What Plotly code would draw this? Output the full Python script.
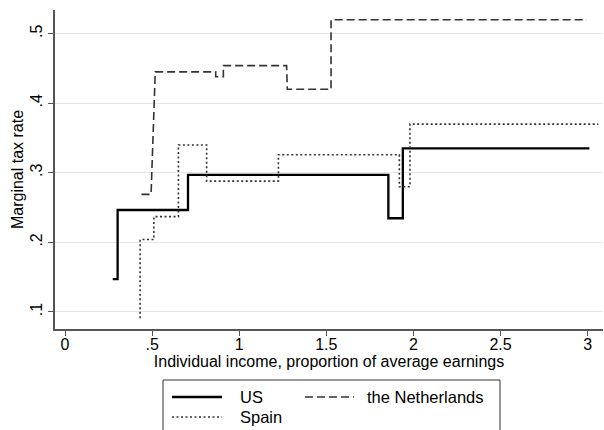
import plotly.graph_objects as go

# ---- data (breakpoints of marginal tax rate schedules) ----
us_x = [0.274, 0.302, 0.302, 0.706, 0.706, 1.856, 1.856, 1.939, 1.939, 3.01]
us_y = [0.147, 0.147, 0.2465, 0.2465, 0.297, 0.297, 0.2346, 0.2346, 0.335, 0.335]

nl_x = [0.439, 0.494, 0.518, 0.865, 0.865, 0.909, 0.909, 1.272, 1.276, 1.527, 1.527, 2.995]
nl_y = [0.269, 0.269, 0.445, 0.445, 0.438, 0.438, 0.454, 0.454, 0.420, 0.420, 0.520, 0.520]

es_x = [0.431, 0.431, 0.510, 0.510, 0.651, 0.651, 0.813, 0.813, 1.225, 1.225, 1.919, 1.919, 1.980, 1.980, 3.061]
es_y = [0.091, 0.204, 0.204, 0.237, 0.237, 0.340, 0.340, 0.288, 0.288, 0.326, 0.326, 0.280, 0.280, 0.370, 0.370]

x_tickvals = [0, 0.5, 1, 1.5, 2, 2.5, 3]
x_ticktext = ["0", ".5", "1", "1.5", "2", "2.5", "3"]
y_tickvals = [0.1, 0.2, 0.3, 0.4, 0.5]
y_ticktext = [".1", ".2", ".3", ".4", ".5"]

series_names = ["US", "the Netherlands", "Spain"]

FONT = "Liberation Sans, Arial, Helvetica, sans-serif"
W, H = 604, 430
L, R, T, B = 55, 1, 10, 101

fig = go.Figure()
fig.add_trace(go.Scatter(x=us_x, y=us_y, mode="lines", name=series_names[0],
                         line=dict(color="#000000", width=2.3), showlegend=False))
fig.add_trace(go.Scatter(x=nl_x, y=nl_y, mode="lines", name=series_names[1],
                         line=dict(color="#333333", width=1.6, dash="8px,4px"), showlegend=False))
fig.add_trace(go.Scatter(x=es_x, y=es_y, mode="lines", name=series_names[2],
                         line=dict(color="#333333", width=1.6, dash="2px,2.5px"), showlegend=False))

axis_common = dict(showline=True, linecolor="#555555", linewidth=1.5, automargin=False,
                   ticks="outside", ticklen=5, tickcolor="#555555", tickwidth=1,
                   zeroline=False, tickfont=dict(size=16, color="#000000", family=FONT))

fig.update_xaxes(range=[-0.0574, 3.088], tickvals=x_tickvals, ticktext=x_ticktext,
                 showgrid=False, ticklabelstandoff=-5,
                 title=dict(text="Individual income, proportion of average earnings",
                            font=dict(size=16, color="#000000", family=FONT), standoff=0),
                 **axis_common)
fig.update_yaxes(range=[0.0754, 0.534], tickvals=y_tickvals, ticktext=y_ticktext,
                 tickangle=-90, showgrid=True, gridcolor="#e6e6e6", gridwidth=1,
                 title=dict(text="Marginal tax rate",
                            font=dict(size=16, color="#000000", family=FONT), standoff=0),
                 **axis_common)

# ---- manual legend (pixel helpers) ----
pw = W - L - R
ph = H - T - B
def px(x):
    return (x - L) / pw
def py(y):
    return (H - B - y) / ph

shapes = [
    dict(type="rect", xref="paper", yref="paper", x0=px(163), x1=px(500), y0=py(445), y1=py(380),
         line=dict(color="#333333", width=1), fillcolor="white", layer="above"),
    dict(type="line", xref="paper", yref="paper", x0=px(172), x1=px(222), y0=py(397), y1=py(397),
         line=dict(color="#000000", width=2.3)),
    dict(type="line", xref="paper", yref="paper", x0=px(305), x1=px(354), y0=py(397), y1=py(397),
         line=dict(color="#333333", width=1.6, dash="8px,4px")),
    dict(type="line", xref="paper", yref="paper", x0=px(172), x1=px(222), y0=py(417), y1=py(417),
         line=dict(color="#333333", width=1.6, dash="2px,2.5px")),
]
annotations = [
    dict(text=series_names[0], xref="paper", yref="paper", x=px(238), y=py(397),
         xanchor="left", yanchor="middle", showarrow=False,
         font=dict(size=16.5, color="#000000", family=FONT)),
    dict(text=series_names[1], xref="paper", yref="paper", x=px(365), y=py(397),
         xanchor="left", yanchor="middle", showarrow=False,
         font=dict(size=16.5, color="#000000", family=FONT)),
    dict(text=series_names[2], xref="paper", yref="paper", x=px(238), y=py(417),
         xanchor="left", yanchor="middle", showarrow=False,
         font=dict(size=16.5, color="#000000", family=FONT)),
]

fig.update_layout(width=W, height=H, margin=dict(l=L, r=R, t=T, b=B, autoexpand=False),
                  paper_bgcolor="white", plot_bgcolor="white",
                  font=dict(family=FONT, size=16, color="#000000"),
                  shapes=shapes, annotations=annotations, showlegend=False)

fig.write_html("out.html", config={"displayModeBar": False},
               post_script="document.body.style.margin='0';document.body.style.padding='0';")
